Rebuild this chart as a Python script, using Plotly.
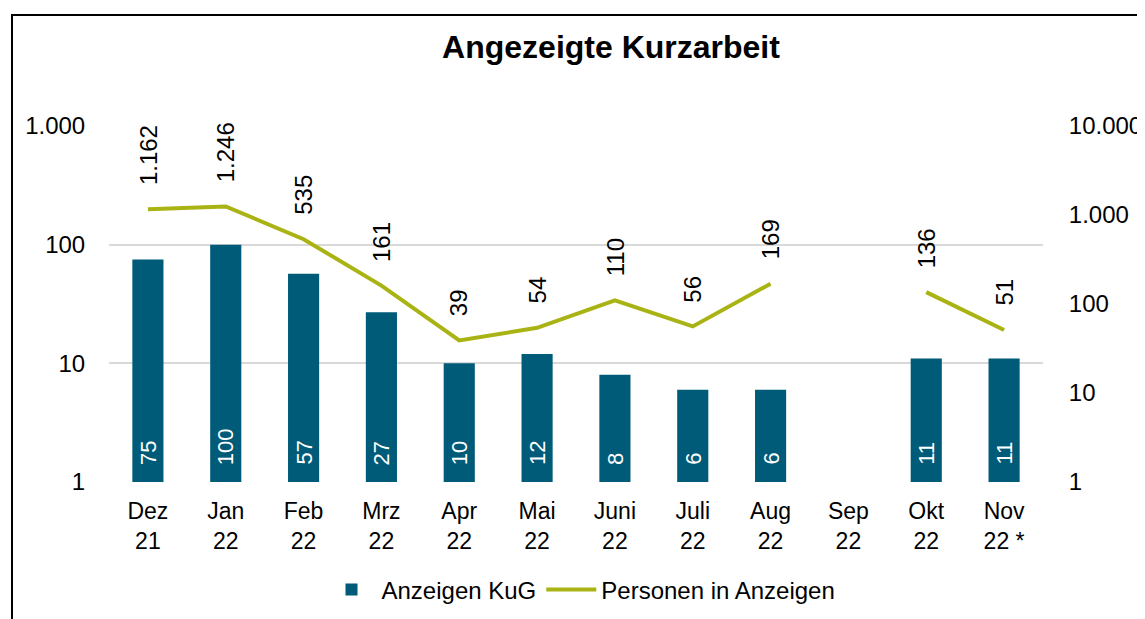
import math
import plotly.graph_objects as go

months = ["Dez<br>21", "Jan<br>22", "Feb<br>22", "Mrz<br>22", "Apr<br>22", "Mai<br>22",
          "Juni<br>22", "Juli<br>22", "Aug<br>22", "Sep<br>22", "Okt<br>22", "Nov<br>22 *"]
anzeigen_kug = [75, 100, 57, 27, 10, 12, 8, 6, 6, None, 11, 11]
personen = [1162, 1246, 535, 161, 39, 54, 110, 56, 169, None, 136, 51]
left_ticks = [1, 10, 100, 1000]
right_ticks = [1, 10, 100, 1000, 10000]

BAR_COLOR = "#005b78"
LINE_COLOR = "#a9b414"
FONT = "Liberation Sans, Arial, sans-serif"
OFF = 8  # page body margin


def de(n):
    return f"{n:,}".replace(",", ".")


fig = go.Figure()
fig.add_trace(go.Bar(
    x=months, y=anzeigen_kug, name="Anzeigen KuG",
    marker=dict(color=BAR_COLOR, line=dict(width=0)),
    width=0.4,
    yaxis="y",
))
fig.add_trace(go.Scatter(
    x=months, y=personen, name="Personen in Anzeigen",
    mode="lines", line=dict(color=LINE_COLOR, width=4),
    connectgaps=False, yaxis="y2",
))

annotations = []
# bar value labels (inside base, white, rotated)
for m, v in zip(months, anzeigen_kug):
    if v is None:
        continue
    annotations.append(dict(
        x=m, y=math.log10(left_ticks[0]), xref="x", yref="y",
        text=de(v), textangle=-90, showarrow=False,
        xanchor="center", yanchor="bottom", yshift=15,
        font=dict(size=22, color="white", family=FONT),
    ))
# line value labels (above points, rotated)
for m, v in zip(months, personen):
    if v is None:
        continue
    annotations.append(dict(
        x=m, y=math.log10(v), xref="x", yref="y2",
        text=de(v), textangle=-90, showarrow=False,
        xanchor="center", yanchor="bottom", yshift=22,
        font=dict(size=24, color="black", family=FONT),
    ))

fig.update_layout(
    width=1145, height=619,
    margin=dict(l=109 - OFF, r=1145 + OFF - 1043, t=126 - OFF, b=619 + OFF - 482),
    paper_bgcolor="white", plot_bgcolor="white",
    font=dict(family=FONT, size=24, color="black"),
    title=dict(text="<b>Angezeigte Kurzarbeit</b>", x=(611 - OFF) / 1145, xanchor="center",
               y=1 - (47 - OFF) / 619, yanchor="middle",
               font=dict(size=32, color="black", family=FONT)),
    showlegend=True,
    legend=dict(orientation="h", x=(581 - OFF) / 1145, xref="container", xanchor="center",
                y=1 - (590 - OFF) / 619, yref="container", yanchor="middle",
                font=dict(size=24, color="black", family=FONT),
                itemwidth=50, tracegroupgap=0),
    xaxis=dict(type="category", showgrid=False, zeroline=False, showline=False,
               ticks="outside", ticklen=8, tickcolor="rgba(0,0,0,0)",
               tickfont=dict(size=23, color="black", family=FONT)),
    yaxis=dict(type="log", range=[0, 3], tickvals=left_ticks,
               ticktext=[de(v) for v in left_ticks],
               showgrid=True, gridcolor="#d9d9d9", gridwidth=2, zeroline=False,
               showline=False, ticks="outside", ticklen=18, tickcolor="rgba(0,0,0,0)",
               tickfont=dict(size=24, color="black", family=FONT)),
    yaxis2=dict(type="log", range=[0, 4], tickvals=right_ticks,
                ticktext=[de(v) for v in right_ticks],
                overlaying="y", side="right", showgrid=False, zeroline=False,
                showline=False, ticks="outside", ticklen=20, tickcolor="rgba(0,0,0,0)",
                tickfont=dict(size=24, color="black", family=FONT)),
    annotations=annotations,
    shapes=[dict(type="rect", xref="paper", yref="paper",
                 x0=(12 - 109) / 934, x1=(1160 - 109) / 934,
                 y0=(482 - 640) / 356, y1=(482 - 15) / 356,
                 line=dict(color="black", width=2), fillcolor="rgba(0,0,0,0)",
                 layer="below")],
)

fig.write_html("out.html")
